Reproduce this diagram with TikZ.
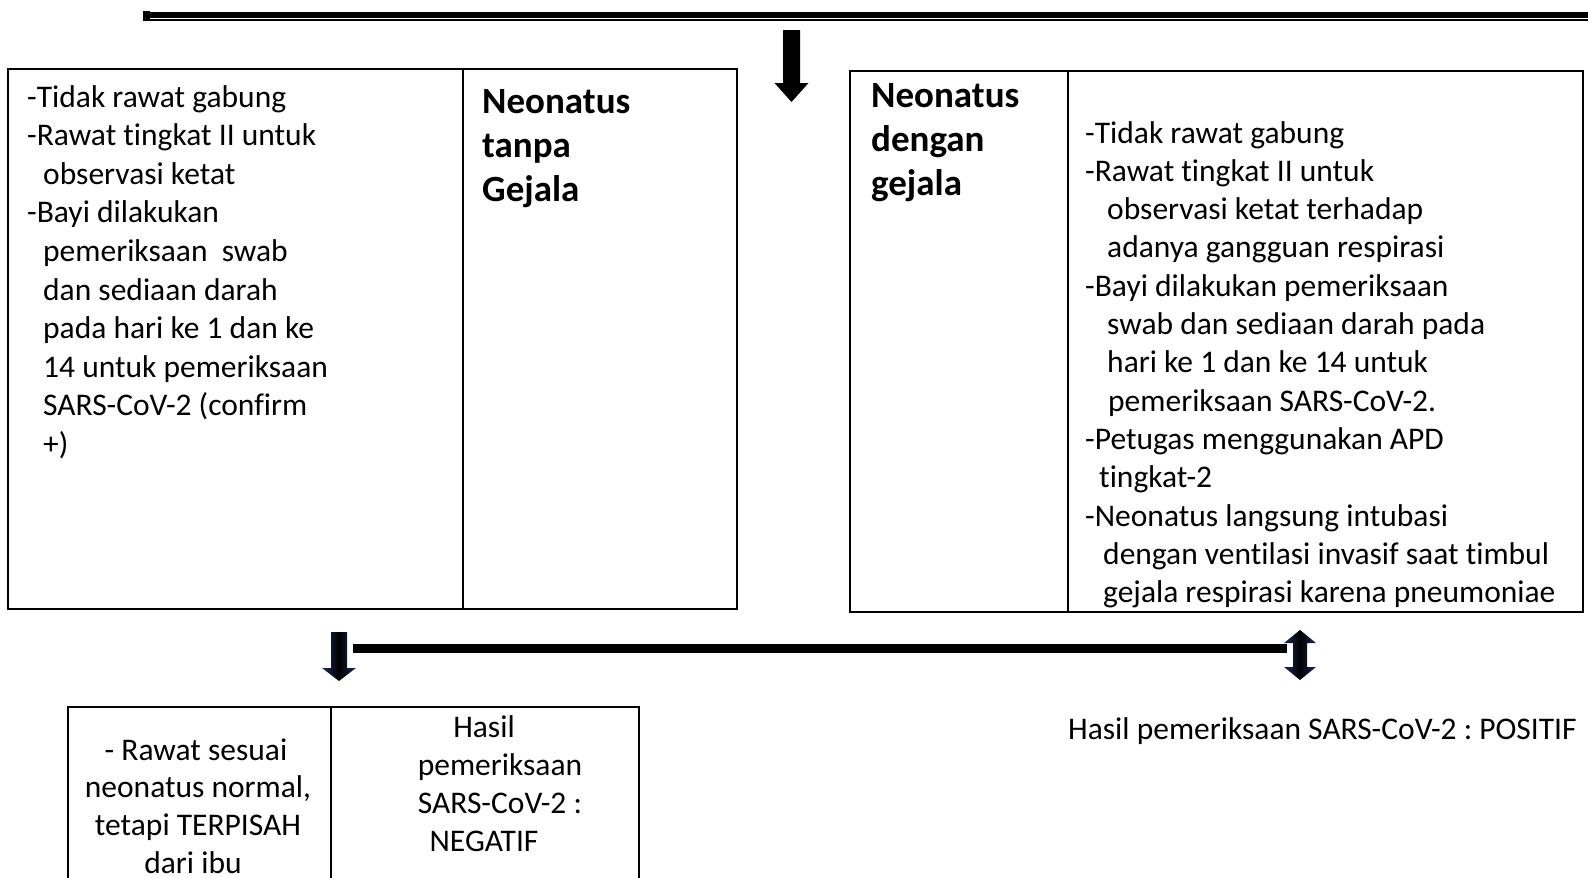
\documentclass[tikz,border=0pt]{standalone}
\usepackage{fontspec}
\setmainfont{Carlito}[Ligatures={NoCommon,NoContextual,NoRare},Contextuals=NoAlternate]
\definecolor{navy}{RGB}{25,45,95}
\begin{document}
\begin{tikzpicture}[x=1pt,y=-1pt,
  txt/.style={anchor=base west, inner sep=0pt, font=\fontsize{31.5}{38.5}\selectfont},
  hdr/.style={anchor=base west, inner sep=0pt, font=\fontsize{37}{44.5}\selectfont\bfseries},
  ctxt/.style={anchor=base, inner sep=0pt, font=\fontsize{31.5}{38.5}\selectfont},
  boxline/.style={line width=2pt},
  blockarrow/.style={fill=black},
  bluearrow/.style={left color=navy, right color=navy, middle color=black}]
\useasboundingbox (0,0) rectangle (1588,878);

% top double rule
\fill (143,11.5) rectangle (1588,17.5);
\fill (143,19.2) rectangle (1588,20.8);
\fill (143,10.5) rectangle (150,21);

% top down arrow
\fill[blockarrow] (783,30) -- (800,30) -- (800,83) -- (808.5,83) -- (791.5,102) -- (774.5,83) -- (783,83) -- cycle;

% left box
\draw[boxline] (7.5,68.5) rectangle (737,609);
\draw[boxline] (463,68.5) -- (463,609);
\foreach \dx/\t [count=\i] in {27/{-Tidak rawat gabung},27/{-Rawat tingkat II untuk},43/{observasi ketat},27/{-Bayi dilakukan},43/{pemeriksaan\ \ swab},43/{dan sediaan darah},43/{pada hari ke 1 dan ke},43/{14 untuk pemeriksaan},43/{SARS-CoV-2 (confirm},43/{+)}}
  \node[txt] (lt\i) at (\dx,{107+(\i-1)*38.6}) {\t};
\node[hdr] (lh1) at (482,113) {Neonatus};
\node[hdr] (lh2) at (482,157) {tanpa};
\node[hdr] (lh3) at (482,201) {Gejala};

% right box
\draw[boxline] (850,70.5) rectangle (1583,612);
\draw[boxline] (1068,70.5) -- (1068,612);
\node[hdr] (rh1) at (871,107) {Neonatus};
\node[hdr] (rh2) at (871,151) {dengan};
\node[hdr] (rh3) at (871,195) {gejala};
\foreach \dx/\t [count=\i] in {1085/{-Tidak rawat gabung},1085/{-Rawat tingkat II untuk},1107/{observasi ketat terhadap},1107/{adanya gangguan respirasi},1085/{-Bayi dilakukan pemeriksaan},1107/{swab dan sediaan darah pada},1107/{hari ke 1 dan ke 14 untuk},1108/{pemeriksaan SARS-CoV-2.},1085/{-Petugas menggunakan APD},1099/{tingkat-2},1085/{-Neonatus langsung intubasi},1103/{dengan ventilasi invasif saat timbul},1103/{gejala respirasi karena pneumoniae}}
  \node[txt] (rt\i) at (\dx,{143+(\i-1)*38.3}) {\t};

% connector line with arrows
\coordinate (la) at (353,648);
\coordinate (ra) at (1287,648);
\draw[line width=9pt] (la) -- (ra);
\shade[bluearrow] (331,632) -- (347,632) -- (347,668) -- (356,668) -- (339,681) -- (322,668) -- (331,668) -- cycle;
\shade[bluearrow] (1300,630) -- (1316,643) -- (1307,643) -- (1307,667) -- (1316,667) -- (1300,680) -- (1284,667) -- (1293,667) -- (1293,643) -- (1284,643) -- cycle;

% bottom box
\draw[boxline] (68,878) -- (68,707) -- (639,707) -- (639,878);
\draw[boxline] (331,707) -- (331,878);
\node[ctxt] (b1) at (196,760) {- Rawat sesuai};
\node[ctxt] (b2) at (198,797) {neonatus normal,};
\node[ctxt] (b3) at (198,835) {tetapi TERPISAH};
\node[ctxt] (b4) at (193,873) {dari ibu};
\node[ctxt] (n1) at (484,737) {Hasil};
\node[ctxt] (n2) at (500,775) {pemeriksaan};
\node[ctxt] (n3) at (500,813) {SARS-CoV-2 :};
\node[ctxt] (n4) at (484,851) {NEGATIF};

% positive result
\node[txt] (pos) at (1068,739) {Hasil pemeriksaan SARS-CoV-2 :\ POSITIF};
\end{tikzpicture}
\end{document}
